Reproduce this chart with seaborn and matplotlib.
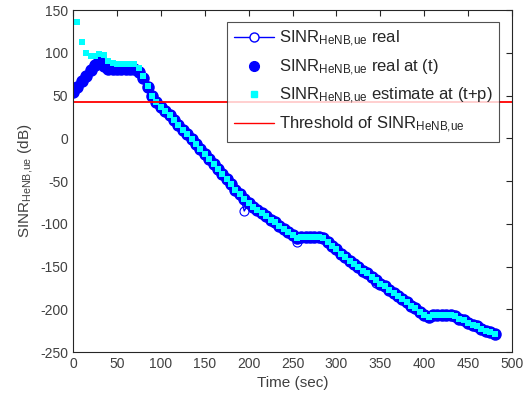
import numpy as np
import pandas as pd
import matplotlib
matplotlib.use("Agg")
import matplotlib.pyplot as plt
import seaborn as sns
from matplotlib.lines import Line2D

# ---------------- data ----------------
time_sec = list(range(0, 481, 5))

sinr_real_at_t = [
    54, 60, 67, 73, 80, 86, 90, 85, 81, 81,
    81, 81, 81, 81, 81, 77, 70, 60, 50, 43,
    37, 32, 27, 21, 16, 10, 5, -1, -7, -12,
    -18, -24, -30, -36, -42, -48, -54, -60, -65, -71,
    -76, -80, -84, -87, -91, -95, -98, -102, -106, -109,
    -113, -117, -116, -115, -115, -115, -115, -117, -121, -126,
    -130, -135, -139, -143, -147, -151, -155, -158, -162, -166,
    -170, -173, -177, -181, -185, -188, -192, -196, -199, -203,
    -207, -209, -207, -207, -207, -207, -207, -208, -211, -213,
    -216, -218, -220, -223, -225, -227, -229,
]

sinr_real = [
    54, 60, 67, 73, 80, 86, 90, 85, 81, 81,
    81, 81, 81, 81, 81, 77, 70, 60, 50, 43,
    37, 32, 27, 21, 16, 10, 5, -1, -7, -12,
    -18, -24, -30, -36, -42, -48, -54, -60, -65, -85,
    -76, -80, -84, -87, -91, -95, -98, -102, -106, -109,
    -113, -121, -116, -115, -115, -115, -115, -117, -121, -126,
    -130, -135, -139, -143, -147, -150, -155, -158, -162, -169,
    -170, -173, -177, -181, -185, -188, -192, -196, -199, -203,
    -207, -209, -207, -207, -207, -207, -207, -208, -211, -213,
    -216, -218, -220, -223, -225, -227, -229,
]

sinr_estimate = [
    np.nan, 136, 113, 100, 96, 96, 98, 97, 90, 88,
    87, 87, 87, 87, 87, 82, 73, 61, 50, 43,
    37, 32, 27, 21, 16, 10, 5, -1, -7, -12,
    -18, -24, -30, -36, -42, -48, -54, -60, -65, -71,
    -76, -80, -84, -87, -91, -95, -98, -102, -106, -109,
    -113, -117, -116, -115, -115, -115, -115, -117, -121, -126,
    -130, -135, -139, -143, -147, -151, -155, -158, -162, -166,
    -170, -173, -177, -181, -185, -188, -192, -196, -199, -203,
    -207, -209, -207, -207, -207, -207, -207, -208, -211, -213,
    -216, -218, -220, -223, -225, -227, -229,
]

threshold_db = 43
x_ticks = list(range(0, 501, 50))
y_ticks = list(range(-250, 151, 50))

# ---------------- style ----------------
sns.set_style("white")
plt.rcParams['font.family'] = ['Liberation Sans', 'DejaVu Sans']
plt.rcParams['mathtext.fontset'] = 'custom'
plt.rcParams['mathtext.rm'] = 'Liberation Sans'
plt.rcParams['mathtext.it'] = 'Liberation Sans'
plt.rcParams['axes.unicode_minus'] = False

df = pd.DataFrame({"t": time_sec, "real": sinr_real,
                   "real_t": sinr_real_at_t, "est": sinr_estimate})

fig = plt.figure(figsize=(5.29, 4.01), dpi=100)
ax = fig.add_axes([0.138, 0.122, 0.830, 0.853])

sns.lineplot(data=df, x="t", y="real", ax=ax, color="blue", lw=1,
             marker="o", markersize=6.5, markerfacecolor="none",
             markeredgecolor="blue", markeredgewidth=0.8,
             estimator=None, sort=False)
sns.lineplot(data=df, x="t", y="real_t", ax=ax, color="blue", lw=0,
             marker="o", markersize=9, markeredgewidth=0,
             estimator=None, sort=False)
sns.lineplot(data=df, x="t", y="est", ax=ax, color="cyan", lw=0,
             marker="s", markersize=4.8, markeredgewidth=0,
             estimator=None, sort=False)
ax.axhline(threshold_db, color="red", lw=1.3)

ax.set_xlim(0, 500)
ax.set_ylim(-250, 150)
ax.set_xticks(x_ticks)
ax.set_yticks(y_ticks)
ax.tick_params(direction="in", top=True, right=True, length=4,
               labelsize=10, colors="#262626", labelcolor="#404040")
for s in ax.spines.values():
    s.set_color("#262626")
    s.set_linewidth(0.8)

ax.set_xlabel("Time (sec)", fontsize=11, color="#404040")
ax.set_ylabel(r"SINR$_{\mathrm{HeNB{,}ue}}$ (dB)", fontsize=11, color="#404040")

handles = [
    Line2D([], [], color="blue", lw=1, marker="o", markersize=6.5,
           markerfacecolor="white", markeredgecolor="blue"),
    Line2D([], [], color="blue", lw=0, marker="o", markersize=7),
    Line2D([], [], color="cyan", lw=0, marker="s", markersize=4),
    Line2D([], [], color="red", lw=1),
]
labels = [
    r"SINR$_{\mathrm{HeNB{,}ue}}$ real",
    r"SINR$_{\mathrm{HeNB{,}ue}}$ real at (t)",
    r"SINR$_{\mathrm{HeNB{,}ue}}$ estimate at (t+p)",
    r"Threshold of SINR$_{\mathrm{HeNB{,}ue}}$",
]
leg = ax.legend(handles, labels, loc="upper right",
                bbox_to_anchor=(0.971, 0.965), fontsize=12,
                frameon=True, fancybox=False, edgecolor="#262626",
                borderpad=0.4, labelspacing=0.5, handlelength=2.4,
                handletextpad=0.3, borderaxespad=0)
leg.get_frame().set_linewidth(0.8)

fig.savefig("out.png", dpi=100)
